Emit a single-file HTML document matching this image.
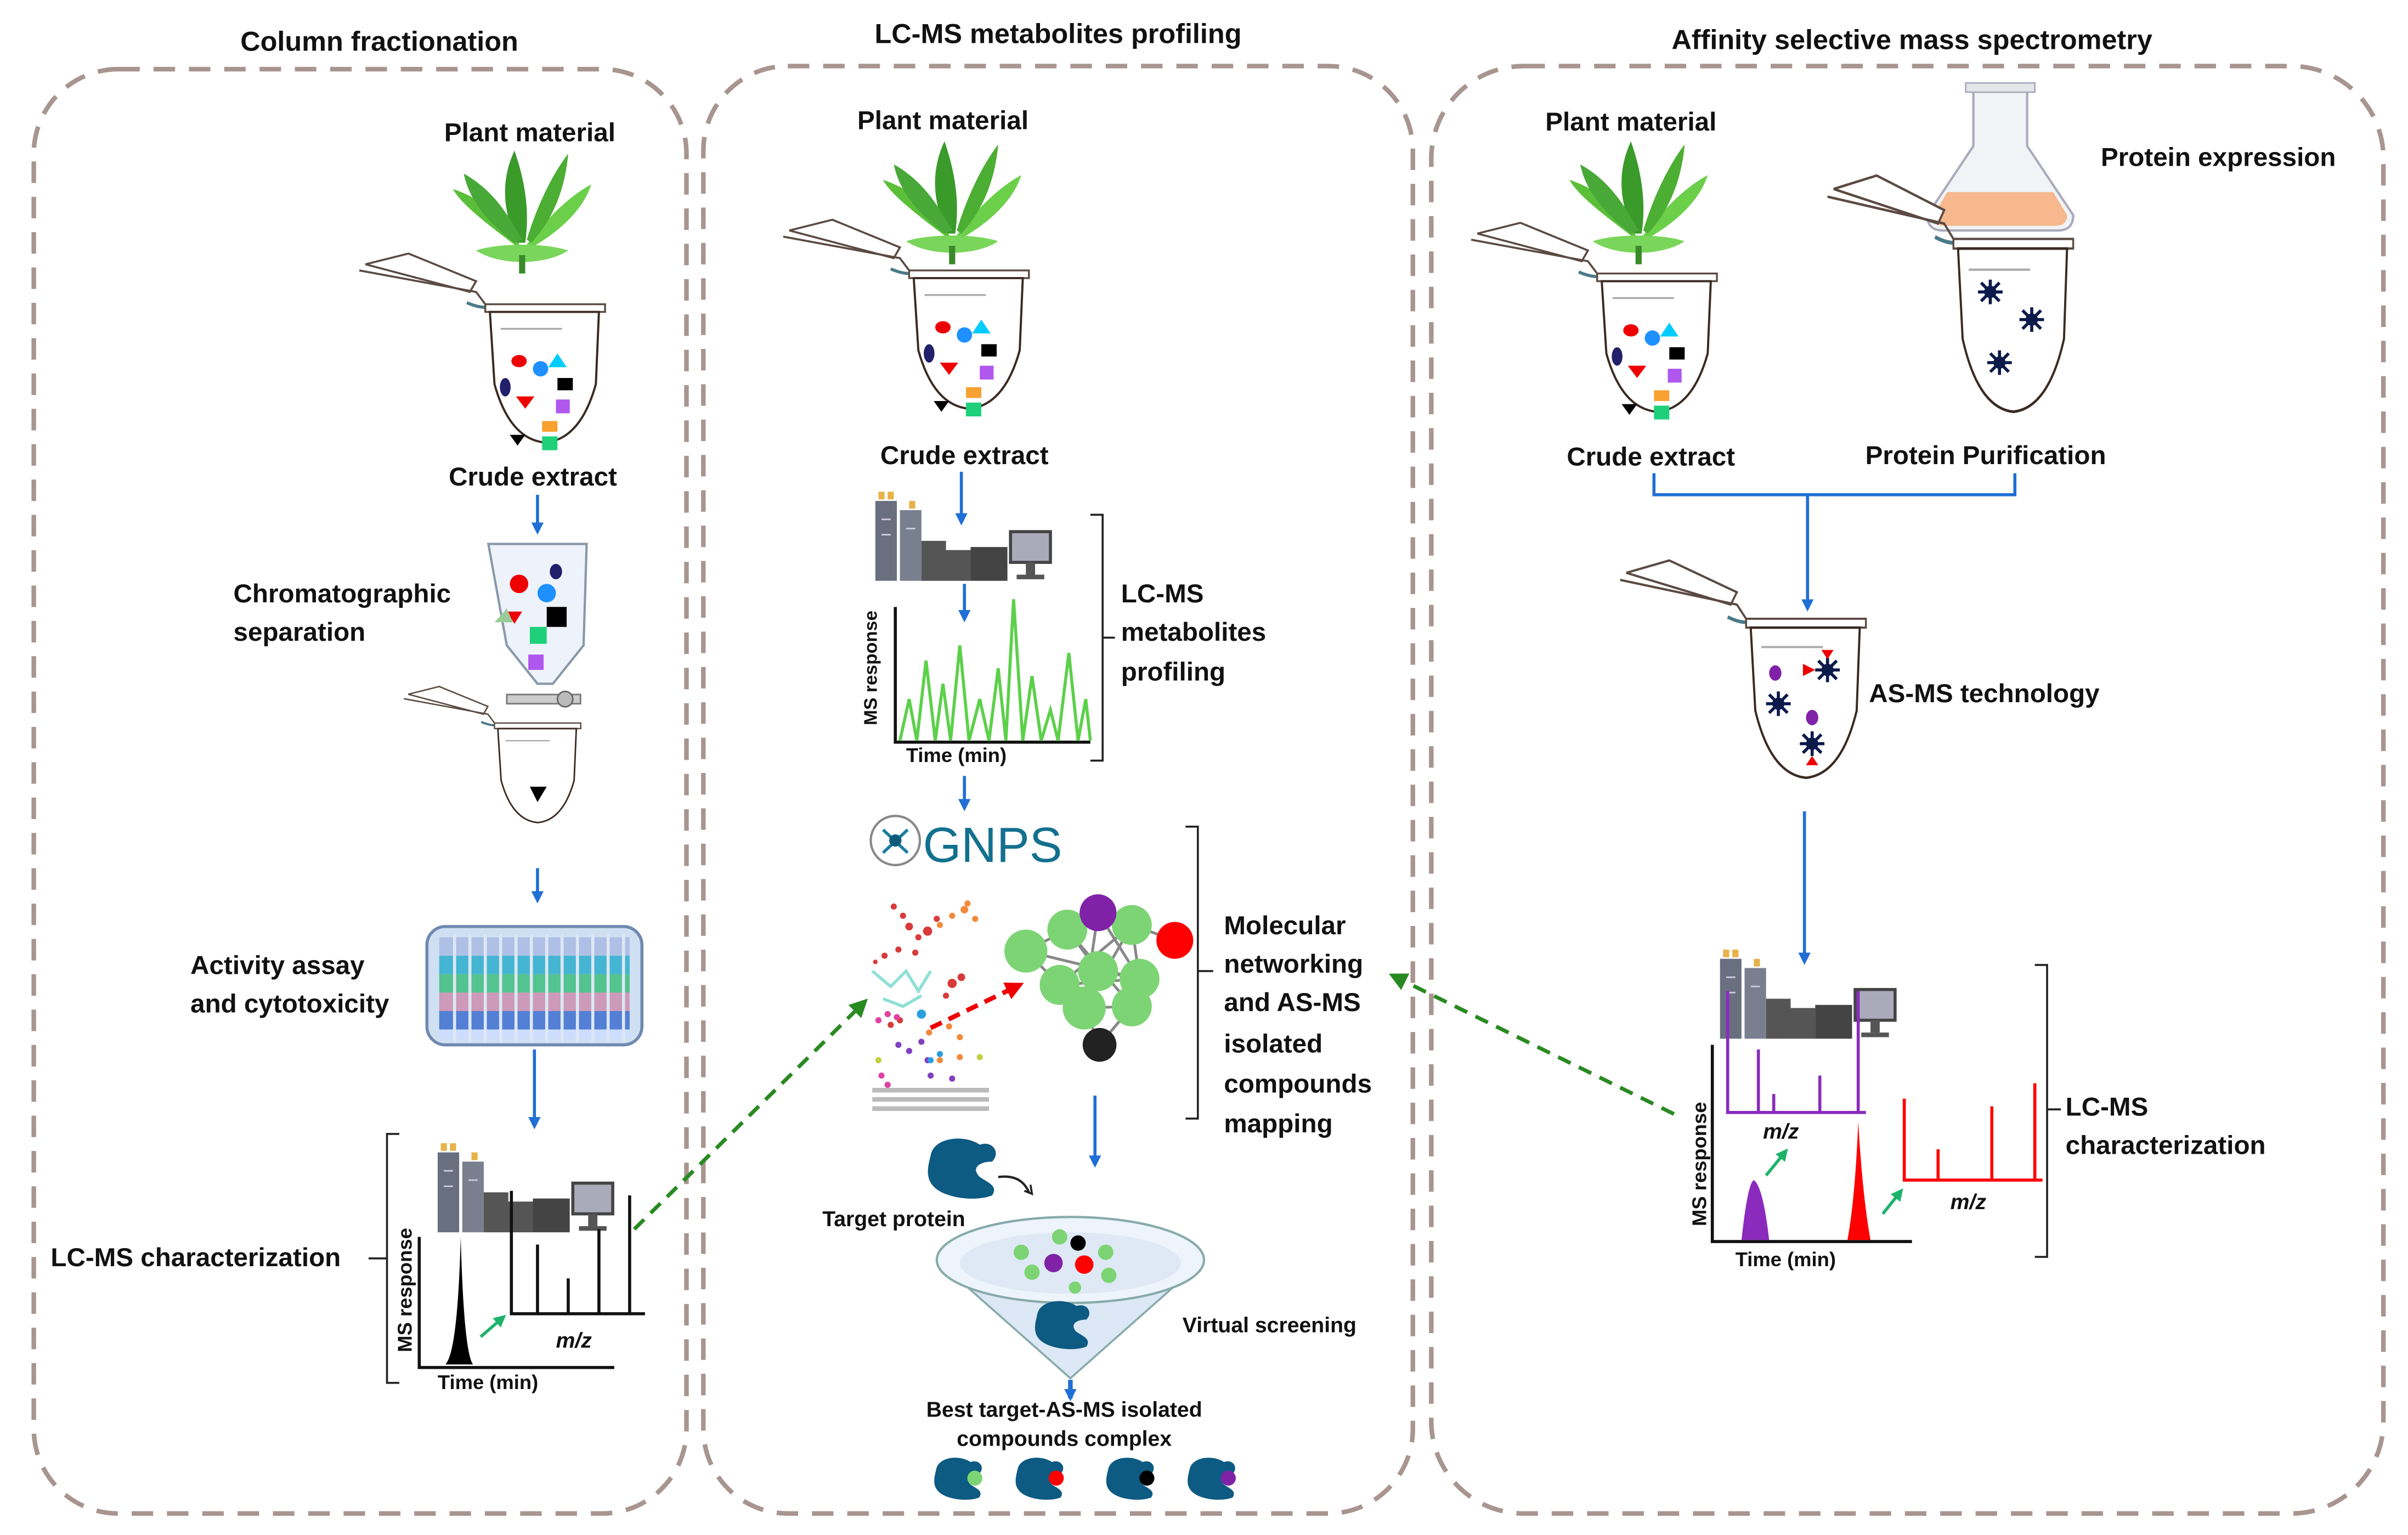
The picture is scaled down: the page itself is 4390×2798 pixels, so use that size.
<!DOCTYPE html>
<html><head><meta charset="utf-8"><style>
html,body{margin:0;padding:0;background:#fff}
svg{display:block}
text{font-family:"Liberation Sans",sans-serif;font-weight:bold;fill:#111}
</style></head><body>
<svg width="4390" height="2798" viewBox="0 0 1568 999" preserveAspectRatio="none" xmlns="http://www.w3.org/2000/svg">
<defs>
<marker id="ab" markerWidth="8" markerHeight="8" refX="6" refY="4" orient="auto" markerUnits="userSpaceOnUse"><path d="M0,0 L8,4 L0,8 Z" fill="#1f6fd6"/></marker>
<marker id="ag" markerWidth="12" markerHeight="12" refX="9" refY="6" orient="auto" markerUnits="userSpaceOnUse"><path d="M0,0 L12,6 L0,12 Z" fill="#2a8a22"/></marker>
<marker id="ar" markerWidth="12" markerHeight="12" refX="9" refY="6" orient="auto" markerUnits="userSpaceOnUse"><path d="M0,0 L12,6 L0,12 Z" fill="#e00"/></marker>
<marker id="agl" markerWidth="8" markerHeight="8" refX="6" refY="4" orient="auto" markerUnits="userSpaceOnUse"><path d="M0,0 L8,4 L0,8 Z" fill="#1db36a"/></marker>
<g id="plant">
<path d="M0,35 C-20,20 -40,5 -45,-5 C-30,0 -15,10 -5,25 Z" fill="#5cbf3a"/>
<path d="M0,35 C15,15 30,0 45,-8 C40,8 25,22 8,32 Z" fill="#6ccf4a"/>
<path d="M-3,30 C-15,5 -12,-15 -5,-30 C2,-10 5,10 2,30 Z" fill="#3a9a2a"/>
<path d="M3,28 C10,5 20,-15 30,-28 C28,-5 20,15 6,30 Z" fill="#4cae32"/>
<path d="M-5,30 C-25,15 -35,0 -38,-15 C-20,-5 -10,10 0,28 Z" fill="#48a838"/>
<path d="M-30,35 C-15,45 15,45 30,35 C15,30 -15,30 -30,35 Z" fill="#7ad65a"/>
<rect x="-2" y="38" width="4" height="12" fill="#3a8a2a"/>
</g>
<g id="tube">
<path d="M-78,-28 L-50,-35 L-6,-17 L-10,-10 Z" fill="#fff" stroke="#5a4a42" stroke-width="1.3"/>
<path d="M-82,-24 L-6,-10 L0,-2" fill="none" stroke="#5a4a42" stroke-width="1.3"/>
<path d="M-12,-3 Q-5,0 0,0" stroke="#4a7a88" stroke-width="2" fill="none"/>
<rect x="0" y="-2" width="78" height="5" fill="#fff" stroke="#5a4a42" stroke-width="1.2"/>
<path d="M3,3 L74,3 L72,50 Q62,86 39,88 Q16,86 6,50 Z" fill="#fff" stroke="#3a2a22" stroke-width="1.4"/>
<line x1="10" y1="14" x2="50" y2="14" stroke="#aaa" stroke-width="1.2"/>
</g>
<g id="mix">
<ellipse cx="22" cy="35" rx="5" ry="4" fill="#e00"/>
<circle cx="36" cy="40" r="5" fill="#1e90ff"/>
<path d="M47,30 L53,39 L41,39 Z" fill="#0cf"/>
<ellipse cx="13" cy="52" rx="3.5" ry="6" fill="#22206a"/>
<rect x="47" y="46" width="10" height="8" fill="#000"/>
<path d="M20,58 L32,58 L26,66 Z" fill="#e00"/>
<rect x="46" y="60" width="9" height="9" fill="#b057ee"/>
<rect x="37" y="74" width="10" height="7" fill="#f8a030"/>
<path d="M16,83 L26,83 L21,90 Z" fill="#000"/>
<rect x="37" y="84" width="10" height="9" fill="#1ed07a"/>
</g>
<g id="inst">
<rect x="0" y="8" width="14" height="52" fill="#6a6f80"/>
<rect x="16" y="14" width="14" height="46" fill="#7a7f90"/>
<rect x="2" y="2" width="4" height="5" fill="#e8b24a"/><rect x="8" y="2" width="4" height="5" fill="#e8b24a"/>
<rect x="22" y="8" width="4" height="5" fill="#e8b24a"/>
<path d="M30,34 L46,34 L46,40 L62,40 L62,60 L30,60 Z" fill="#555"/>
<rect x="62" y="38" width="24" height="22" fill="#444"/>
<rect x="88" y="28" width="26" height="20" fill="#aab" stroke="#444" stroke-width="2"/>
<rect x="98" y="48" width="6" height="8" fill="#555"/><rect x="92" y="56" width="18" height="3" fill="#555"/>
<line x1="4" y1="20" x2="10" y2="20" stroke="#ccd" /><line x1="4" y1="30" x2="10" y2="30" stroke="#ccd"/><line x1="20" y1="26" x2="26" y2="26" stroke="#ccd"/>
</g>
<g id="prot"><path d="M-22,-8 C-20,-20 0,-22 10,-15 C18,-18 24,-10 18,-4 C10,-4 4,0 10,6 C16,10 22,12 18,18 C8,22 -10,20 -18,14 C-26,8 -24,0 -22,-8 Z" fill="#0d5a82"/></g>
<g id="star"><circle r="4" fill="#0b1a4a"/><path d="M0,-8 L0,8 M-8,0 L8,0 M-6,-6 L6,6 M6,-6 L-6,6" stroke="#0b1a4a" stroke-width="2"/></g>
</defs>

<!-- panels -->
<g fill="none" stroke="#a89590" stroke-width="3" stroke-dasharray="14,9">
<rect x="22" y="45" width="425" height="940" rx="55"/>
<rect x="458" y="43" width="462" height="942" rx="55"/>
<rect x="932" y="43" width="620" height="942" rx="60"/>
</g>
<text x="247" y="33" font-size="18" text-anchor="middle">Column fractionation</text>
<text x="689" y="28" font-size="18" text-anchor="middle">LC-MS metabolites profiling</text>
<text x="1245" y="32" font-size="18" text-anchor="middle">Affinity selective mass spectrometry</text>

<!-- LEFT -->
<text x="345" y="92" font-size="17" text-anchor="middle">Plant material</text>
<use href="#plant" x="340" y="128"/>
<use href="#tube" x="316" y="200"/><use href="#mix" x="316" y="200"/>
<text x="347" y="316" font-size="17" text-anchor="middle">Crude extract</text>
<line x1="350" y1="322" x2="350" y2="346" stroke="#1f6fd6" stroke-width="2" marker-end="url(#ab)"/>
<path d="M318,354 L382,354 L380,420 L360,445 L350,445 L330,420 Z" fill="#eef3fb" stroke="#8899aa" stroke-width="1.5"/>
<circle cx="338" cy="380" r="6" fill="#e00"/><circle cx="356" cy="386" r="6" fill="#1e90ff"/><ellipse cx="362" cy="372" rx="4" ry="5" fill="#22206a"/>
<path d="M330,398 L340,398 L335,406 Z" fill="#e00"/><path d="M322,405 L330,396 L334,405 Z" fill="#9c9"/>
<rect x="356" y="395" width="13" height="13" fill="#000"/><rect x="345" y="408" width="11" height="11" fill="#1ed07a"/><rect x="344" y="426" width="10" height="10" fill="#b057ee"/>
<rect x="330" y="452" width="48" height="6" fill="#ccc" stroke="#777"/><circle cx="368" cy="455" r="5" fill="#bbb" stroke="#666"/>
<use href="#tube" x="322" y="472" transform="translate(322 472) scale(0.72) translate(-322 -472)"/>
<path d="M345,512 L356,512 L350,522 Z" fill="#000"/>
<text x="152" y="392" font-size="17">Chromatographic</text>
<text x="152" y="417" font-size="17">separation</text>
<line x1="350" y1="565" x2="350" y2="586" stroke="#1f6fd6" stroke-width="2" marker-end="url(#ab)"/>
<rect x="278" y="603" width="140" height="77" rx="12" fill="#cfe0f2" stroke="#6f8ab0" stroke-width="2"/>
<rect x="286" y="610" width="124" height="12" fill="#9ad" opacity=".6"/>
<rect x="286" y="622" width="124" height="12" fill="#2ac" opacity=".8"/>
<rect x="286" y="634" width="124" height="12" fill="#3b7" opacity=".8"/>
<rect x="286" y="646" width="124" height="12" fill="#c8a" opacity=".8"/>
<rect x="286" y="658" width="124" height="12" fill="#36c" opacity=".8"/>
<rect x="286" y="670" width="124" height="6" fill="#cdf"/>
<g stroke="#dde8f4" stroke-width="2">
<line x1="296" y1="608" x2="296" y2="678"/><line x1="306" y1="608" x2="306" y2="678"/><line x1="316" y1="608" x2="316" y2="678"/><line x1="326" y1="608" x2="326" y2="678"/><line x1="336" y1="608" x2="336" y2="678"/><line x1="346" y1="608" x2="346" y2="678"/><line x1="356" y1="608" x2="356" y2="678"/><line x1="366" y1="608" x2="366" y2="678"/><line x1="376" y1="608" x2="376" y2="678"/><line x1="386" y1="608" x2="386" y2="678"/><line x1="396" y1="608" x2="396" y2="678"/><line x1="406" y1="608" x2="406" y2="678"/>
</g>
<text x="124" y="634" font-size="17">Activity assay</text>
<text x="124" y="659" font-size="17">and cytotoxicity</text>
<line x1="348" y1="683" x2="348" y2="733" stroke="#1f6fd6" stroke-width="2" marker-end="url(#ab)"/>
<use href="#inst" x="285" y="742"/>
<path d="M260,738 L252,738 L252,900 L260,900 M252,819 L240,819" fill="none" stroke="#222" stroke-width="1.3"/>
<text x="33" y="824" font-size="17">LC-MS characterization</text>
<path d="M273,805 L273,890 L400,890" fill="none" stroke="#111" stroke-width="2"/>
<path d="M290,888 Q298,880 300,805 Q302,880 308,888 Z" fill="#000"/>
<text transform="translate(268 880) rotate(-90)" font-size="13">MS response</text>
<text x="285" y="904" font-size="13">Time (min)</text>
<line x1="313" y1="870" x2="328" y2="857" stroke="#1db36a" stroke-width="2" marker-end="url(#agl)"/>
<path d="M333,775 L333,855 L420,855 M350,810 L350,855 M370,832 L370,855 M390,800 L390,855 M410,778 L410,855" fill="none" stroke="#111" stroke-width="2"/>
<text x="362" y="877" font-size="14" font-style="italic">m/z</text>
<line x1="413" y1="800" x2="563" y2="652" stroke="#2a8a22" stroke-width="2.5" stroke-dasharray="9,6" marker-end="url(#ag)"/>

<!-- MIDDLE -->
<text x="614" y="84" font-size="17" text-anchor="middle">Plant material</text>
<use href="#plant" x="620" y="122"/>
<use href="#tube" x="592" y="178"/><use href="#mix" x="592" y="178"/>
<text x="628" y="302" font-size="17" text-anchor="middle">Crude extract</text>
<line x1="626" y1="307" x2="626" y2="340" stroke="#1f6fd6" stroke-width="2" marker-end="url(#ab)"/>
<use href="#inst" x="570" y="318"/>
<line x1="628" y1="380" x2="628" y2="403" stroke="#1f6fd6" stroke-width="2" marker-end="url(#ab)"/>
<path d="M583,395 L583,483 L710,483" fill="none" stroke="#111" stroke-width="2"/>
<polyline points="586,482 592,455 597,482 603,430 609,482 614,445 619,482 625,420 631,482 638,455 644,482 650,435 655,482 660,390 666,482 672,440 678,482 684,462 689,482 696,425 702,482 707,455 710,482" fill="none" stroke="#5cd04a" stroke-width="2"/>
<text transform="translate(571 472) rotate(-90)" font-size="12">MS response</text>
<text x="590" y="496" font-size="13">Time (min)</text>
<path d="M710,335 L718,335 L718,495 L710,495 M718,415 L726,415" fill="none" stroke="#222" stroke-width="1.3"/>
<text x="730" y="392" font-size="17">LC-MS</text>
<text x="730" y="417" font-size="17">metabolites</text>
<text x="730" y="443" font-size="17">profiling</text>
<line x1="628" y1="505" x2="628" y2="526" stroke="#1f6fd6" stroke-width="2" marker-end="url(#ab)"/>
<circle cx="583" cy="547" r="16" fill="none" stroke="#888" stroke-width="1.5"/>
<g stroke="#1a7fa0" stroke-width="2"><line x1="575" y1="540" x2="591" y2="555"/><line x1="575" y1="555" x2="591" y2="540"/></g>
<circle cx="583" cy="547" r="4" fill="#0d5a7a"/>
<text x="601" y="561" font-size="32" style="font-weight:normal;fill:#13708f">GNPS</text>
<g fill="#d83a3a">
<circle cx="582" cy="590" r="2"/><circle cx="588" cy="596" r="2"/><circle cx="592" cy="603" r="2.5"/><circle cx="598" cy="610" r="2"/><circle cx="585" cy="618" r="2"/><circle cx="604" cy="606" r="3"/><circle cx="576" cy="622" r="2"/><circle cx="596" cy="620" r="2"/><circle cx="610" cy="598" r="2"/><circle cx="570" cy="626" r="1.5"/>
<circle cx="620" cy="640" r="3"/><circle cx="626" cy="636" r="2.5"/><circle cx="616" cy="648" r="2"/><circle cx="580" cy="667" r="2"/><circle cx="586" cy="664" r="2"/>
</g>
<g fill="#f28a3c"><circle cx="620" cy="596" r="2"/><circle cx="628" cy="592" r="2.5"/><circle cx="635" cy="598" r="2"/><circle cx="630" cy="588" r="2"/><circle cx="612" cy="602" r="2"/><circle cx="618" cy="668" r="2"/><circle cx="625" cy="675" r="2"/><circle cx="605" cy="672" r="2"/><circle cx="612" cy="690" r="2"/><circle cx="625" cy="688" r="2"/></g>
<g stroke="#8fe0d6" stroke-width="2" fill="none"><path d="M568,632 L580,642 L590,632 L598,645 L606,632"/><path d="M575,650 L588,655 L600,648"/></g>
<g fill="#e040a0"><circle cx="572" cy="664" r="2"/><circle cx="578" cy="660" r="2"/><circle cx="584" cy="662" r="2"/><circle cx="574" cy="700" r="2"/><circle cx="578" cy="706" r="2"/></g>
<g fill="#8040c0"><circle cx="585" cy="680" r="2"/><circle cx="592" cy="684" r="2"/><circle cx="600" cy="678" r="2"/><circle cx="604" cy="690" r="2"/><circle cx="606" cy="700" r="2"/><circle cx="620" cy="702" r="2"/></g>
<g fill="#2aa0e0"><circle cx="606" cy="690" r="2"/><circle cx="612" cy="686" r="2"/><circle cx="600" cy="660" r="3"/></g>
<g fill="#bbb"><rect x="568" y="708" width="76" height="3"/><rect x="568" y="714" width="76" height="3"/><rect x="568" y="720" width="76" height="3"/></g>
<g fill="#c0d040"><circle cx="572" cy="690" r="2"/><circle cx="638" cy="688" r="2"/></g>
<line x1="606" y1="669" x2="664" y2="641" stroke="#e00" stroke-width="3" stroke-dasharray="8,5" marker-end="url(#ar)"/>
<g stroke="#888" stroke-width="1.8">
<line x1="668" y1="619" x2="695" y2="605"/><line x1="695" y1="605" x2="715" y2="594"/><line x1="715" y1="594" x2="737" y2="602"/><line x1="737" y1="602" x2="765" y2="612"/>
<line x1="668" y1="619" x2="690" y2="641"/><line x1="690" y1="641" x2="706" y2="656"/><line x1="706" y1="656" x2="716" y2="680"/><line x1="737" y1="655" x2="716" y2="680"/>
<line x1="695" y1="605" x2="715" y2="632"/><line x1="715" y1="632" x2="742" y2="637"/><line x1="742" y1="637" x2="737" y2="655"/><line x1="737" y1="602" x2="742" y2="637"/>
<line x1="690" y1="641" x2="742" y2="637"/><line x1="706" y1="656" x2="737" y2="602"/><line x1="695" y1="605" x2="737" y2="655"/><line x1="715" y1="594" x2="706" y2="656"/>
<line x1="690" y1="641" x2="737" y2="602"/><line x1="706" y1="656" x2="737" y2="655"/><line x1="715" y1="594" x2="742" y2="637"/><line x1="668" y1="619" x2="742" y2="637"/>
</g>
<g fill="#7dd474">
<circle cx="668" cy="619" r="14"/><circle cx="695" cy="605" r="13"/><circle cx="737" cy="602" r="13"/><circle cx="715" cy="632" r="13"/><circle cx="690" cy="641" r="13"/><circle cx="742" cy="637" r="13"/><circle cx="706" cy="656" r="14"/><circle cx="737" cy="655" r="13"/>
</g>
<circle cx="715" cy="594" r="12" fill="#7f22a8"/>
<circle cx="765" cy="612" r="12" fill="#f00"/>
<circle cx="716" cy="680" r="11" fill="#222"/>
<path d="M772,538 L780,538 L780,728 L772,728 M780,632 L790,632" fill="none" stroke="#222" stroke-width="1.3"/>
<text x="797" y="608" font-size="17">Molecular</text>
<text x="797" y="633" font-size="17">networking</text>
<text x="797" y="658" font-size="17">and AS-MS</text>
<text x="797" y="685" font-size="17">isolated</text>
<text x="797" y="711" font-size="17">compounds</text>
<text x="797" y="737" font-size="17">mapping</text>
<line x1="713" y1="713" x2="713" y2="758" stroke="#1f6fd6" stroke-width="2" marker-end="url(#ab)"/>
<use href="#prot" x="628" y="760"/>
<path d="M650,766 Q665,764 670,776" fill="none" stroke="#222" stroke-width="1.5"/>
<path d="M667,775 L672,777 L671,771" fill="none" stroke="#222" stroke-width="1.3"/>
<text x="582" y="798" font-size="14" text-anchor="middle">Target protein</text>
<path d="M610,820 L697,897 L784,820" fill="#dce8f6" stroke="#8aa" stroke-width="1.3"/>
<ellipse cx="697" cy="820" rx="87" ry="28" fill="#eef4fc" stroke="#8aa" stroke-width="1.5"/>
<ellipse cx="697" cy="822" rx="72" ry="20" fill="#dfe9f5"/>
<g fill="#7dd474"><circle cx="665" cy="815" r="5"/><circle cx="690" cy="805" r="5"/><circle cx="720" cy="815" r="5"/><circle cx="672" cy="828" r="5"/><circle cx="722" cy="830" r="5"/><circle cx="700" cy="838" r="4"/></g>
<circle cx="702" cy="809" r="5" fill="#000"/><circle cx="686" cy="822" r="6" fill="#7f22a8"/><circle cx="706" cy="823" r="6" fill="#f00"/>
<use href="#prot" x="693" y="862" transform="translate(693 862) scale(0.8) translate(-693 -862)"/>
<text x="770" y="867" font-size="14">Virtual screening</text>
<line x1="697" y1="898" x2="697" y2="910" stroke="#1f6fd6" stroke-width="3" marker-end="url(#ab)"/>
<text x="693" y="922" font-size="14" text-anchor="middle">Best target-AS-MS isolated</text>
<text x="693" y="941" font-size="14" text-anchor="middle">compounds  complex</text>
<g transform="translate(625 962) scale(0.7)"><use href="#prot"/><circle cx="14" cy="0" r="7" fill="#7dd474"/></g>
<g transform="translate(678 962) scale(0.7)"><use href="#prot"/><circle cx="14" cy="0" r="7" fill="#f00"/></g>
<g transform="translate(737 962) scale(0.7)"><use href="#prot"/><circle cx="14" cy="0" r="7" fill="#000"/></g>
<g transform="translate(790 962) scale(0.7)"><use href="#prot"/><circle cx="14" cy="0" r="7" fill="#7f22a8"/></g>

<!-- RIGHT -->
<text x="1062" y="85" font-size="17" text-anchor="middle">Plant material</text>
<use href="#plant" x="1067" y="122"/>
<use href="#tube" x="1040" y="180"/><use href="#mix" x="1040" y="180"/>
<path d="M1285,58 L1320,58 L1320,95 L1350,140 Q1350,150 1340,150 L1265,150 Q1255,150 1255,140 L1285,95 Z" fill="#f1f3f6" stroke="#aab" stroke-width="1.5"/>
<path d="M1268,125 L1337,125 L1346,140 Q1346,147 1338,147 L1267,147 Q1259,147 1259,140 Z" fill="#f6b88c"/>
<rect x="1280" y="54" width="45" height="6" fill="#e4e6ea" stroke="#aab"/>
<text x="1368" y="108" font-size="17">Protein expression</text>
<use href="#tube" x="1272" y="158" transform="translate(1272 158) scale(1 1.25) translate(-1272 -158)"/>
<use href="#star" x="1296" y="190"/><use href="#star" x="1323" y="208"/><use href="#star" x="1302" y="236"/>
<text x="1075" y="303" font-size="17" text-anchor="middle">Crude extract</text>
<text x="1293" y="302" font-size="17" text-anchor="middle">Protein Purification</text>
<path d="M1077,308 L1077,322 L1312,322 L1312,308" fill="none" stroke="#1f6fd6" stroke-width="2"/>
<line x1="1177" y1="322" x2="1177" y2="396" stroke="#1f6fd6" stroke-width="2" marker-end="url(#ab)"/>
<use href="#tube" x="1137" y="405" transform="translate(1137 405) scale(1 1.15) translate(-1137 -405)"/>
<use href="#star" x="1190" y="436"/><use href="#star" x="1158" y="458"/><use href="#star" x="1180" y="484"/>
<ellipse cx="1156" cy="438" rx="4" ry="5" fill="#7f22a8"/><path d="M1174,432 L1182,436 L1174,440 Z" fill="#e00"/><path d="M1186,423 L1194,423 L1190,429 Z" fill="#e00"/>
<ellipse cx="1180" cy="467" rx="4" ry="5" fill="#7f22a8"/><path d="M1176,498 L1184,498 L1180,492 Z" fill="#e00"/>
<text x="1217" y="457" font-size="17">AS-MS technology</text>
<line x1="1175" y1="528" x2="1175" y2="626" stroke="#1f6fd6" stroke-width="2" marker-end="url(#ab)"/>
<use href="#inst" x="1120" y="616"/>
<path d="M1115,680 L1115,808 L1245,808" fill="none" stroke="#111" stroke-width="2"/>
<path d="M1134,807 Q1138,770 1142,768 Q1148,772 1152,807 Z" fill="#8a2bbd"/>
<path d="M1203,807 Q1208,780 1210,730 Q1213,780 1218,807 Z" fill="#f00"/>
<text transform="translate(1111 798) rotate(-90)" font-size="13">MS response</text>
<text x="1130" y="824" font-size="13">Time (min)</text>
<path d="M1125,645 L1125,724 L1215,724 M1145,683 L1145,724 M1155,712 L1155,724 M1185,700 L1185,724 M1210,645 L1210,724" fill="none" stroke="#8a2bbd" stroke-width="2"/>
<text x="1148" y="741" font-size="14" font-style="italic">m/z</text>
<path d="M1240,715 L1240,768 L1330,768 M1262,748 L1262,768 M1297,720 L1297,768 M1325,705 L1325,768" fill="none" stroke="#f00" stroke-width="2"/>
<text x="1270" y="787" font-size="14" font-style="italic">m/z</text>
<line x1="1150" y1="765" x2="1163" y2="749" stroke="#1db36a" stroke-width="2" marker-end="url(#agl)"/>
<line x1="1226" y1="790" x2="1238" y2="775" stroke="#1db36a" stroke-width="2" marker-end="url(#agl)"/>
<path d="M1325,628 L1333,628 L1333,818 L1325,818 M1333,722 L1342,722" fill="none" stroke="#222" stroke-width="1.3"/>
<text x="1345" y="726" font-size="17">LC-MS</text>
<text x="1345" y="751" font-size="17">characterization</text>
<line x1="1090" y1="725" x2="907" y2="635" stroke="#2a8a22" stroke-width="2.5" stroke-dasharray="9,6" marker-end="url(#ag)"/>
</svg>
</body></html>
